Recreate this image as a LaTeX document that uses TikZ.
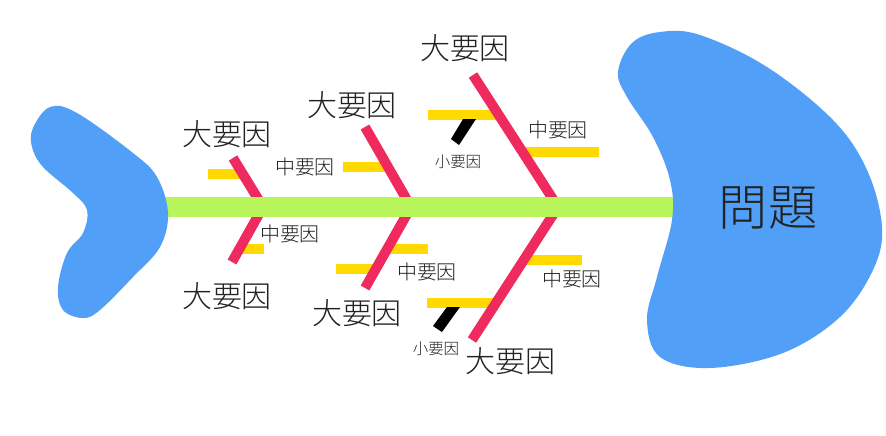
\documentclass[tikz,border=0pt]{standalone}
\usepackage{fontspec}
\setmainfont{Noto Sans CJK JP}[UprightFont={* Light}]
\usetikzlibrary{positioning}
\definecolor{FishBlue}{HTML}{519FF7}
\definecolor{FishGreen}{HTML}{B8F55A}
\definecolor{FishRed}{HTML}{EE2A5E}
\definecolor{FishYellow}{HTML}{FFD900}
\definecolor{FishText}{HTML}{222222}
\tikzset{
  every node/.style={inner sep=0pt,color=FishText},
  bigcause/.style={font=\fontsize{25.6}{28}\selectfont},
  midcause/.style={font=\fontsize{17}{19}\selectfont},
  smallcause/.style={font=\fontsize{13.2}{15}\selectfont},
  bone/.style={FishRed,line width=8.5pt},
  midbone/.style={FishYellow,line width=7.7pt},
}

\begin{document}
\begin{tikzpicture}[x=0.03cm,y=-0.03cm]
  \useasboundingbox (0,0) rectangle (886,435);
  % --- where the big bones meet the spine ---
  \coordinate (v1) at (263,207);
  \coordinate (v2) at (411,207);
  \coordinate (v3) at (558,207);
  % --- free ends of the big bones (u = upper, d = lower) ---
  \coordinate (b1u) at (233,158);
  \coordinate (b1d) at (232,262);
  \coordinate (b2u) at (365,127);
  \coordinate (b2d) at (365,288);
  \coordinate (b3u) at (473,75);
  \coordinate (b3d) at (472,340);
  % --- middle bones (yellow) ---
  \draw[midbone] (208,174) -- (243,174);
  \draw[midbone] (343,167) -- (388,167);
  \draw[midbone] (428,115) -- (499,115);
  \draw[midbone] (523,152) -- (599,152);
  \draw[midbone] (239,249) -- (264,249);
  \draw[midbone] (336,269) -- (375,269);
  \draw[midbone] (387,249) -- (428,249);
  \draw[midbone] (524,260) -- (582,260);
  \draw[midbone] (427,303) -- (496,303);
  % --- small bones (black), flat where they hang from the yellow ---
  \fill[black] (463,119) -- (476,119) -- (459,145) -- (451,139) -- cycle;
  \fill[black] (447,307) -- (460,307) -- (442,332) -- (433,326) -- cycle;
  % --- big bones (red) ---
  \foreach \k in {1,2,3}{
    \draw[bone] (b\k u) -- (v\k);
    \draw[bone] (b\k d) -- (v\k);
  }
  % --- spine ---
  \draw[FishGreen,line width=17pt] (165,207) -- (676,207);
  % --- tail ---
  \fill[FishBlue] plot[smooth cycle,tension=0.6] coordinates {(168,213) (160,247) (133,277) (100,310) (83,318) (63,310) (58,287) (67,253) (83,233) (87,210) (73,193) (43,167) (32,147) (33,128) (50,107) (77,113) (133,153) (157,177)};
  % --- head ---
  \fill[FishBlue] plot[smooth cycle,tension=0.6] coordinates {(660,32) (700,35) (767,67) (833,120) (867,170) (882,227) (873,270) (840,317) (783,353) (710,368) (660,357) (647,320) (657,277) (672,220) (670,180) (653,137) (627,97) (618,72) (632,43)};
  \node[font=\fontsize{42}{46}\selectfont] (problem) at (768,208) {問題};
  % --- labels, upper side ---
  \node[bigcause] (big1) at (227,134) {大要因};
  \node[bigcause] (big2) at (352,105) {大要因};
  \node[bigcause] (big3) at (465,48) {大要因};
  \node[midcause] (mid1) at (305,167) {中要因};
  \node[midcause] (mid2) at (558,130) {中要因};
  \node[smallcause] (small1) at (458,162) {小要因};
  % --- labels, lower side ---
  \node[bigcause] (big4) at (227,296) {大要因};
  \node[bigcause] (big5) at (357,313) {大要因};
  \node[bigcause] (big6) at (510,361) {大要因};
  \node[midcause] (mid3) at (290,234) {中要因};
  \node[midcause] (mid4) at (427,272) {中要因};
  \node[midcause] (mid5) at (572,279) {中要因};
  \node[smallcause] (small2) at (436,349) {小要因};
\end{tikzpicture}
\end{document}
